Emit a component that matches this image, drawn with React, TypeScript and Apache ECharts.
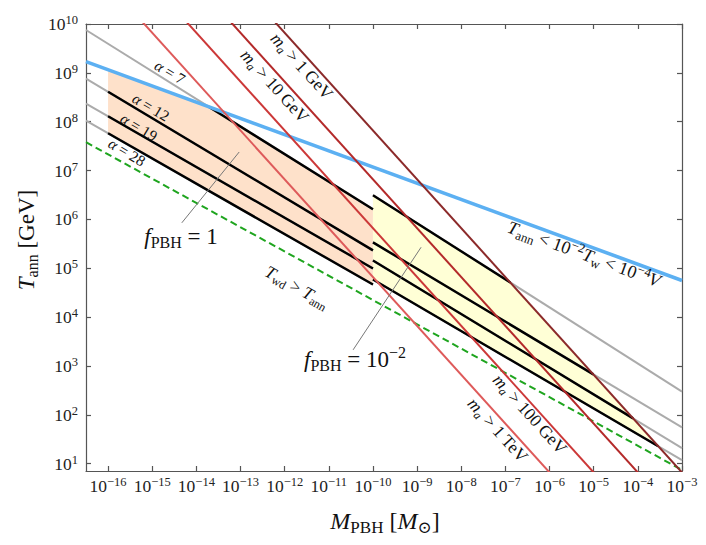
import React, { useEffect, useRef } from 'react';
import * as echarts from 'echarts';

const FONT = '"Liberation Serif", "DejaVu Serif", serif';

// ---------- data (log10 units: x = log10 M_PBH/M_sun, y = log10 T_ann/GeV) ----------
const xTickExponents = [-16, -15, -14, -13, -12, -11, -10, -9, -8, -7, -6, -5, -4, -3];
const yTickExponents = [1, 2, 3, 4, 5, 6, 7, 8, 9, 10];
const xRange = [-16.5, -3];
const yRange = [0.85, 10];

// T_ann < 1e-2 T_w < 1e-4 V  (blue)
const wallBound = [[-16.5, 9.23], [-3, 4.75]];
// T_wd > T_ann (green dashed)
const wdBound = [[-16.5, 7.58], [-3, 0.87]];

// axion-mass lines: log T + log M = const
const axionMassLabels = ['1 GeV', '10 GeV', '100 GeV', '1 TeV'];
const axionIntercepts = [-2.18, -3.18, -4.18, -5.18];

// alpha lines
const alphaValues = [7, 12, 19, 28];
const f1AtLeftEdge = [9.877, 8.883, 8.37, 8.021]; // f_PBH = 1 line, log T at log M = -16.5
const f1AtMinus10 = [6.207, 5.366, 4.996, 4.667]; // f_PBH = 1 line, log T at log M = -10
const f2AtMinus10 = [6.495, 5.53, 5.16, 4.77]; // f_PBH = 1e-2 line, log T at log M = -10
const f2AtRightEdge = [2.476, 1.741, 1.32, 1.074]; // f_PBH = 1e-2 line, log T at log M = -3
const f1MassWindow = [-16, -10];

// annotation pointer lines
const fOnePointer = [[-14.33, 5.93], [-13.03, 7.38]];
const fHundredthPointer = [[-10.45, 3.33], [-8.91, 5.43]];

// ---------- geometry helpers ----------
type P = number[];
const yOn = (a: P, b: P, x: number) => a[1] + ((b[1] - a[1]) * (x - a[0])) / (b[0] - a[0]);
const intersect = (a1: P, a2: P, b1: P, b2: P): P => {
  const s1 = (a2[1] - a1[1]) / (a2[0] - a1[0]);
  const s2 = (b2[1] - b1[1]) / (b2[0] - b1[0]);
  const c1 = a1[1] - s1 * a1[0];
  const c2 = b1[1] - s2 * b1[0];
  const x = (c2 - c1) / (s1 - s2);
  return [x, s1 * x + c1];
};

const axionColors = ['#8c2a2a', '#b42a2a', '#cc3838', '#de5a5a'];

function lineSeries(data: P[], color: string, width: number, extra: any = {}) {
  return {
    type: 'line',
    data,
    showSymbol: false,
    symbol: 'none',
    silent: true,
    clip: true,
    lineStyle: { color, width, ...(extra.lineStyle || {}) },
    z: extra.z ?? 2,
  };
}

function richSet(size: number) {
  const sub = Math.round(size * 0.7);
  return {
    i: { fontFamily: FONT, fontSize: size, lineHeight: size, fontStyle: 'italic', fill: '#111' },
    r: { fontFamily: FONT, fontSize: size, lineHeight: size, fill: '#111' },
    sub: { fontFamily: FONT, fontSize: sub, lineHeight: sub, padding: [Math.round(size * 0.55), 0, 0, 0], fill: '#111' },
    isub: { fontFamily: FONT, fontSize: sub, lineHeight: sub, fontStyle: 'italic', padding: [Math.round(size * 0.55), 0, 0, 0], fill: '#111' },
    sup: { fontFamily: FONT, fontSize: sub, lineHeight: sub, padding: [0, 0, Math.round(size * 0.55), 0], fill: '#111' },
  };
}

function textEl(text: string, x: number, y: number, size: number, angleDeg = 0) {
  return {
    type: 'text',
    x,
    y,
    rotation: (angleDeg * Math.PI) / 180,
    silent: true,
    z: 50,
    style: {
      text,
      rich: richSet(size),
      align: 'center',
      verticalAlign: 'middle',
      fontFamily: FONT,
      fontSize: size,
      fill: '#111',
    },
  };
}

export default function App() {
  const ref = useRef<HTMLDivElement>(null);

  useEffect(() => {
    if (!ref.current) return;
    const chart = echarts.init(ref.current, undefined, { renderer: 'svg' });

    const f1Lines = alphaValues.map((_, i) => [[-16.5, f1AtLeftEdge[i]], [-10, f1AtMinus10[i]]]);
    const f2Lines = alphaValues.map((_, i) => [[-10, f2AtMinus10[i]], [-3, f2AtRightEdge[i]]]);
    const axionLines = axionIntercepts.map((c) => [[c - 10.5, 10.5], [c - 0, 0]]);
    const gevLine = axionLines[0];

    const orange = [
      [f1MassWindow[0], yOn(wallBound[0], wallBound[1], f1MassWindow[0])],
      intersect(wallBound[0], wallBound[1], f1Lines[0][0], f1Lines[0][1]),
      [f1MassWindow[1], f1AtMinus10[0]],
      [f1MassWindow[1], f1AtMinus10[3]],
      [f1MassWindow[0], yOn(f1Lines[3][0], f1Lines[3][1], f1MassWindow[0])],
    ];
    const yellow = [
      [-10, f2AtMinus10[0]],
      intersect(f2Lines[0][0], f2Lines[0][1], gevLine[0], gevLine[1]),
      intersect(f2Lines[3][0], f2Lines[3][1], gevLine[0], gevLine[1]),
      [-10, f2AtMinus10[3]],
    ];

    const polySeries = (pts: P[], color: string) => ({
      type: 'custom',
      coordinateSystem: 'cartesian2d',
      data: [[-10, 5]],
      silent: true,
      z: 1,
      renderItem: (_p: any, api: any) => ({
        type: 'polygon',
        shape: { points: pts.map((p) => api.coord(p)) },
        style: { fill: color },
      }),
    });

    const series: any[] = [];
    series.push(polySeries(orange, '#fee1ca'));
    series.push(polySeries(yellow, '#ffffd6'));

    // gray full alpha lines
    f1Lines.forEach((l) => series.push(lineSeries(l, '#ababab', 2, { z: 2 })));
    f2Lines.forEach((l) => series.push(lineSeries(l, '#ababab', 2, { z: 2 })));

    // black segments
    f1Lines.forEach((l, i) => {
      const start = i === 0 ? intersect(wallBound[0], wallBound[1], l[0], l[1]) : [f1MassWindow[0], yOn(l[0], l[1], f1MassWindow[0])];
      series.push(lineSeries([start, [f1MassWindow[1], f1AtMinus10[i]]], '#000', 2.4, { z: 3 }));
    });
    f2Lines.forEach((l, i) => {
      const end = intersect(l[0], l[1], gevLine[0], gevLine[1]);
      series.push(lineSeries([[-10, f2AtMinus10[i]], end], '#000', 2.4, { z: 3 }));
    });

    // green dashed
    series.push(lineSeries(wdBound, '#1fa51f', 2, { z: 4, lineStyle: { type: [7, 4] } }));
    // blue
    series.push(lineSeries(wallBound, '#5cb0f2', 3.6, { z: 4 }));
    // axion lines
    axionLines.forEach((l, i) => series.push(lineSeries(l, axionColors[i], 2, { z: 5 })));
    // pointers
    series.push(lineSeries(fOnePointer, '#777', 1, { z: 6 }));
    series.push(lineSeries(fHundredthPointer, '#777', 1, { z: 6 }));

    const axisLineStyle = { color: '#555', width: 1.2 };
    const tickRich = {
      b: { fontFamily: FONT, fontSize: 17.5, lineHeight: 17, color: '#222' },
      s: { fontFamily: FONT, fontSize: 12.5, lineHeight: 12, padding: [0, 0, 8, 0], color: '#222' },
    };
    const fmt = (v: number) => `{b|10}{s|${v < 0 ? '\u2212' + -v : v}}`;

    const xCommon = {
      type: 'value',
      min: xRange[0],
      max: xRange[1],
      splitLine: { show: false },
      axisLine: { show: true, onZero: false, lineStyle: axisLineStyle },
      axisTick: { show: true, inside: true, length: 5, customValues: xTickExponents, lineStyle: axisLineStyle },
    };
    const yCommon = {
      type: 'value',
      min: yRange[0],
      max: yRange[1],
      splitLine: { show: false },
      axisLine: { show: true, onZero: false, lineStyle: axisLineStyle },
      axisTick: { show: true, inside: true, length: 5, customValues: yTickExponents, lineStyle: axisLineStyle },
    };

    const texts: any[] = [
      textEl('{i|α}{r| = 7}', 170, 72, 15.5, -31),
      textEl('{i|α}{r| = 12}', 151, 107, 15.5, -31),
      textEl('{i|α}{r| = 19}', 139, 127, 15.5, -31),
      textEl('{i|α}{r| = 28}', 127, 152, 15.5, -31),
      textEl(`{i|m}{isub|a}{r| > ${axionMassLabels[0]}}`, 302, 66, 17.5, -47.8),
      textEl(`{i|m}{isub|a}{r| > ${axionMassLabels[1]}}`, 275, 86, 17.5, -47.8),
      textEl(`{i|m}{isub|a}{r| > ${axionMassLabels[2]}}`, 530, 414, 17.5, -47.8),
      textEl(`{i|m}{isub|a}{r| > ${axionMassLabels[3]}}`, 498, 430, 17.5, -47.8),
      textEl('{i|T}{sub|ann}{r| < 10}{sup|\u22122}{i|T}{sub|w}{r| < 10}{sup|\u22124}{i|V}', 584, 254, 18, -20.1),
      textEl('{i|T}{sub|wd}{r| > }{i|T}{sub|ann}', 297, 287, 17.5, -29),
      textEl('{i|f}{sub|PBH}{r| = 1}', 181, 236, 23),
      textEl('{i|f}{sub|PBH}{r| = 10}{sup|\u22122}', 355, 359, 23),
      textEl('{i|M}{sub|PBH}{r| [}{i|M}{sub|⊙}{r|]}', 385, 521, 24),
      textEl('{i|T}{sub|ann}{r| [GeV]}', 26, 240, 23, 90),
    ];

    chart.setOption({
      animation: false,
      backgroundColor: '#fff',
      grid: { left: 86, right: 24, top: 24, bottom: 74, containLabel: false },
      xAxis: [
        {
          ...xCommon,
          position: 'bottom',
          axisLabel: { show: true, customValues: xTickExponents, formatter: fmt, rich: tickRich, margin: 6 },
        },
        { ...xCommon, position: 'top', axisLabel: { show: false } },
      ],
      yAxis: [
        {
          ...yCommon,
          position: 'left',
          axisLabel: { show: true, customValues: yTickExponents, formatter: fmt, rich: tickRich, margin: 8 },
        },
        { ...yCommon, position: 'right', axisLabel: { show: false } },
      ],
      series,
      graphic: texts,
    });

    return () => chart.dispose();
  }, []);

  return (
    <div
      ref={ref}
      style={{ position: 'fixed', left: 0, top: 0, width: 706, height: 545, background: '#fff' }}
    />
  );
}
